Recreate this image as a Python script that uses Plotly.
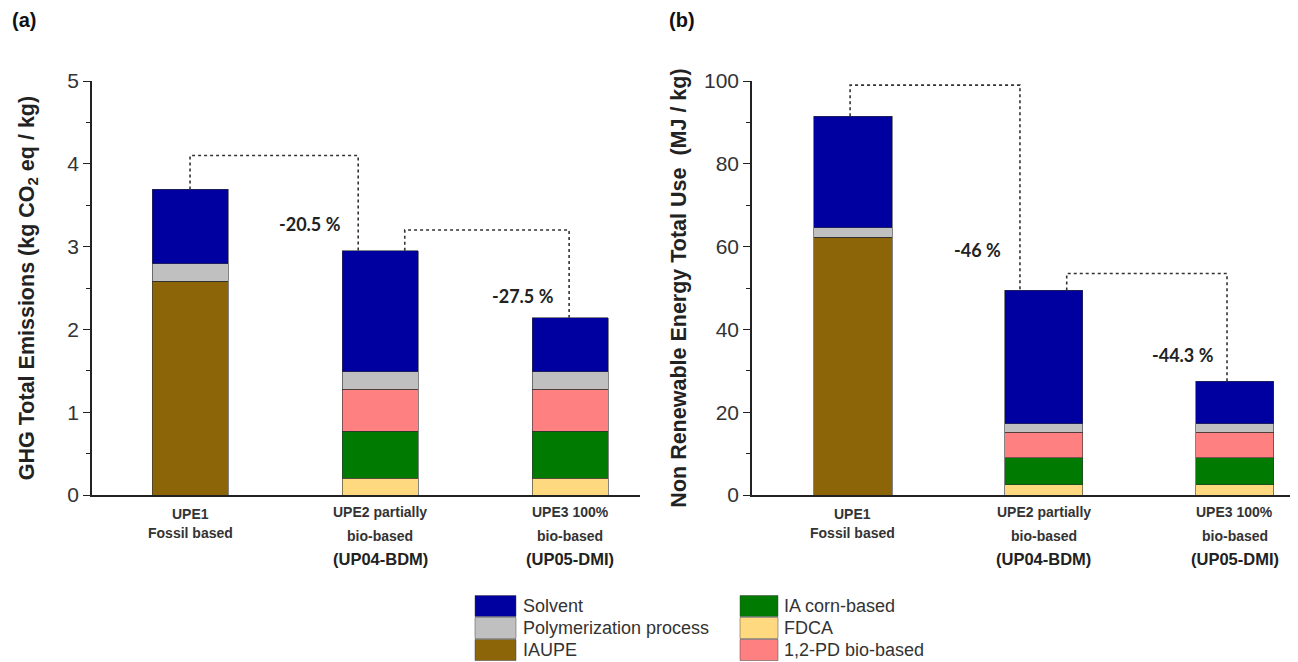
import plotly.graph_objects as go

W, H = 1298, 662

# ---------------- data ----------------
positions = [0, 1, 2]
cat_line1 = ["UPE1", "UPE2 partially", "UPE3 100%"]
cat_line2 = ["Fossil based", "bio-based", "bio-based"]
cat_line3 = ["", "(UP04-BDM)", "(UP05-DMI)"]

# stacking order bottom -> top
series_names = ["IAUPE", "FDCA", "IA corn-based", "1,2-PD bio-based",
                "Polymerization process", "Solvent"]
series_colors = {
    "Solvent": "#0000A0",
    "Polymerization process": "#C0C0C0",
    "IAUPE": "#8B6508",
    "IA corn-based": "#007A00",
    "FDCA": "#FFD97F",
    "1,2-PD bio-based": "#FF8080",
}

# (a) GHG total emissions (kg CO2 eq / kg)
ghg = {
    "IAUPE": [2.58, 0, 0],
    "FDCA": [0, 0.20, 0.20],
    "IA corn-based": [0, 0.57, 0.57],
    "1,2-PD bio-based": [0, 0.51, 0.51],
    "Polymerization process": [0.21, 0.21, 0.21],
    "Solvent": [0.90, 1.46, 0.65],
}
# (b) Non renewable energy total use (MJ / kg)
nre = {
    "IAUPE": [62.3, 0, 0],
    "FDCA": [0, 2.5, 2.5],
    "IA corn-based": [0, 6.5, 6.5],
    "1,2-PD bio-based": [0, 6.2, 6.2],
    "Polymerization process": [2.2, 2.0, 2.0],
    "Solvent": [27.0, 32.2, 10.3],
}

# dotted connectors: x path and top levels
ghg_conn1_x = [0, 0, 0.885, 0.885]
ghg_conn1_y = [3.69, 4.10, 4.10, 2.95]
ghg_conn2_x = [1.13, 1.13, 1.995, 1.995]
ghg_conn2_y = [2.95, 3.20, 3.20, 2.14]
nre_conn1_x = [-0.015, -0.015, 0.875, 0.875]
nre_conn1_y = [91.5, 99.0, 99.0, 49.4]
nre_conn2_x = [1.12, 1.12, 1.96, 1.96]
nre_conn2_y = [49.4, 53.5, 53.5, 27.5]

ghg_pct_text = ["-20.5 %", "-27.5 %"]
ghg_pct_x = [0.63, 1.75]
ghg_pct_y = [3.27, 2.40]
nre_pct_text = ["-46 %", "-44.3 %"]
nre_pct_x = [0.65, 1.73]
nre_pct_y = [59.3, 33.8]

legend_col1 = ["Solvent", "Polymerization process", "IAUPE"]
legend_col2 = ["IA corn-based", "FDCA", "1,2-PD bio-based"]

# ---------------- figure ----------------
def px_x(p):
    return p / W

def px_y(p):
    return (H - p) / H

fig = go.Figure()

bar_line = dict(color="rgba(50,50,50,0.75)", width=0.8)
for name in series_names:
    fig.add_trace(go.Bar(x=positions, y=ghg[name], name=name, width=0.4,
                         marker=dict(color=series_colors[name], line=bar_line),
                         xaxis="x", yaxis="y", showlegend=False))
for name in series_names:
    fig.add_trace(go.Bar(x=positions, y=nre[name], name=name, width=0.41,
                         marker=dict(color=series_colors[name], line=bar_line),
                         xaxis="x2", yaxis="y2", showlegend=False))

conn_line = dict(color="#333333", width=1.6, dash="dot")
for cx, cy, xa, ya in [(ghg_conn1_x, ghg_conn1_y, "x", "y"),
                       (ghg_conn2_x, ghg_conn2_y, "x", "y"),
                       (nre_conn1_x, nre_conn1_y, "x2", "y2"),
                       (nre_conn2_x, nre_conn2_y, "x2", "y2")]:
    fig.add_trace(go.Scatter(x=cx, y=cy, mode="lines", line=conn_line,
                             xaxis=xa, yaxis=ya, showlegend=False,
                             hoverinfo="skip"))

fig.update_layout(barmode="stack", width=W, height=H, autosize=False,
                  margin=dict(l=0, r=0, t=0, b=0, pad=0),
                  paper_bgcolor="white", plot_bgcolor="white",
                  showlegend=False,
                  font=dict(family="Arial, Liberation Sans, sans-serif", color="#222"))

ydom = [px_y(495), px_y(81)]
axis_common = dict(showgrid=False, zeroline=False, showline=True,
                   linecolor="#222", linewidth=1.5, automargin=False)
fig.update_layout(
    xaxis=dict(domain=[px_x(92), px_x(640)], range=[-0.516, 2.368],
               showticklabels=False, ticks="", anchor="y", **axis_common),
    yaxis=dict(domain=ydom, range=[0, 5], dtick=1, ticks="outside",
               ticklen=7, tickwidth=1.3, tickcolor="#222",
               minor=dict(dtick=0.5, ticks="outside", ticklen=4,
                          tickcolor="#222", tickwidth=1.2),
               tickfont=dict(size=21, color="#333"), anchor="x",
               title=dict(text="<b>GHG Total Emissions (kg CO<sub>2</sub> eq / kg)</b>",
                          font=dict(size=21.5, color="#222"), standoff=27),
               **axis_common),
    xaxis2=dict(domain=[px_x(752), px_x(1290)], range=[-0.529, 2.29],
                showticklabels=False, ticks="", anchor="y2", **axis_common),
    yaxis2=dict(domain=ydom, range=[0, 100], dtick=20, ticks="outside",
                ticklen=7, tickwidth=1.3, tickcolor="#222",
                minor=dict(dtick=10, ticks="outside", ticklen=4,
                           tickcolor="#222", tickwidth=1.2),
                tickfont=dict(size=21, color="#333"), anchor="x2",
                title=dict(text="<b>Non Renewable Energy Total Use  (MJ / kg)</b>",
                           font=dict(size=21.5, color="#222"), standoff=11),
                **axis_common),
)

ann = []
# panel labels
ann.append(dict(text="<b>(a)</b>", x=px_x(10), y=px_y(20), xref="paper", yref="paper",
                xanchor="left", yanchor="middle", showarrow=False,
                font=dict(size=20, color="#111")))
ann.append(dict(text="<b>(b)</b>", x=px_x(667), y=px_y(20), xref="paper", yref="paper",
                xanchor="left", yanchor="middle", showarrow=False,
                font=dict(size=20, color="#111")))

# category labels
for xa in ["x", "x2"]:
    for i, p in enumerate(positions):
        y1, y2 = (514, 533) if i == 0 else (512, 536)
        ann.append(dict(text="<b>%s</b>" % cat_line1[i], x=p, y=px_y(y1), xref=xa,
                        yref="paper", showarrow=False, yanchor="middle",
                        font=dict(size=14, color="#333")))
        ann.append(dict(text="<b>%s</b>" % cat_line2[i], x=p, y=px_y(y2), xref=xa,
                        yref="paper", showarrow=False, yanchor="middle",
                        font=dict(size=14, color="#333")))
        if cat_line3[i]:
            ann.append(dict(text="<b>%s</b>" % cat_line3[i], x=p, y=px_y(559), xref=xa,
                            yref="paper", showarrow=False, yanchor="middle",
                            font=dict(size=16.5, color="#222")))

# percentage labels
for t, x, y in zip(ghg_pct_text, ghg_pct_x, ghg_pct_y):
    ann.append(dict(text="<b>%s</b>" % t, x=x, y=y, xref="x", yref="y",
                    showarrow=False, font=dict(size=18, family="Lato, sans-serif",
                                               color="#222")))
for t, x, y in zip(nre_pct_text, nre_pct_x, nre_pct_y):
    ann.append(dict(text="<b>%s</b>" % t, x=x, y=y, xref="x2", yref="y2",
                    showarrow=False, font=dict(size=18, family="Lato, sans-serif",
                                               color="#222")))

# manual legend
shapes = []
rows_y = [606, 628, 650]
for col, (sx0, sx1, tx) in zip([legend_col1, legend_col2],
                               [(475, 516, 521), (740, 778, 782)]):
    for name, ry in zip(col, rows_y):
        shapes.append(dict(type="rect", xref="paper", yref="paper",
                           x0=px_x(sx0), x1=px_x(sx1),
                           y0=px_y(ry + 10.5), y1=px_y(ry - 10.5),
                           fillcolor=series_colors[name],
                           line=dict(color="rgba(60,60,60,0.6)", width=0.8)))
        ann.append(dict(text=name, x=px_x(tx), y=px_y(ry), xref="paper", yref="paper",
                        xanchor="left", yanchor="middle", showarrow=False,
                        font=dict(size=18, color="#333")))

fig.update_layout(annotations=ann, shapes=shapes)

fig.write_html(
    "out.html",
    config={"displayModeBar": False},
    post_script="document.body.style.margin='0';document.body.style.padding='0';"
                "document.body.style.overflow='hidden';",
)
